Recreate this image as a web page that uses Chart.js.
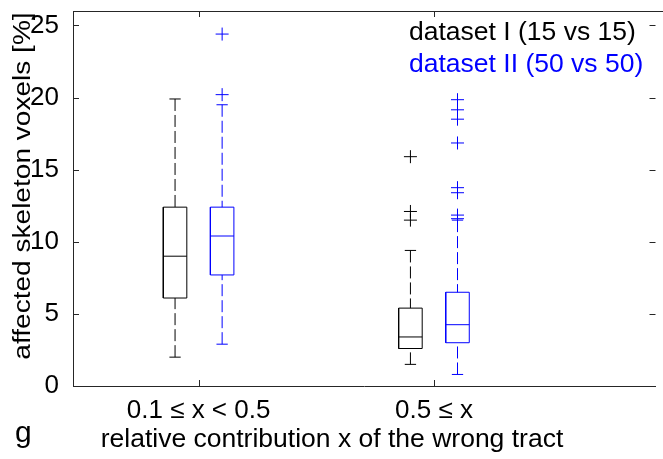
<!DOCTYPE html>
<html>
<head>
<meta charset="utf-8">
<script src="https://cdn.jsdelivr.net/npm/chart.js@4/dist/chart.umd.min.js"></script>
<style>
  body { margin: 0; background: #fff; }
  canvas { display: block; }
</style>
</head>
<body>
<canvas id="c" width="663" height="459"></canvas>
<script>
// groups on the x axis and the two datasets
const groupLabels = ['0.1 ≤ x < 0.5', '0.5 ≤ x'];
const seriesNames = ['dataset I (15 vs 15)', 'dataset II (50 vs 50)'];
const yTicks = [0, 5, 10, 15, 20, 25];

// dataset I box statistics, one value per group
const lowerWhiskerI = [2.0, 1.5];
const q1I = [6.1, 2.6];
const medianI = [9.0, 3.4];
const q3I = [12.4, 5.4];
const upperWhiskerI = [19.9, 9.4];
const outliersI = [[], [15.9, 12.1, 11.5]];

// dataset II box statistics
const lowerWhiskerII = [2.9, 0.8];
const q1II = [7.7, 3.0];
const medianII = [10.4, 4.25];
const q3II = [12.4, 6.5];
const upperWhiskerII = [19.5, 11.5];
const outliersII = [[24.4, 20.2], [19.85, 19.15, 18.5, 16.85, 13.75, 13.4, 11.85, 11.6]];

const colors = ['#000000', '#0000ff'];
const offset = [-0.1, 0.1];
const half = 0.05, cap = 0.024;
const FONT = '"Liberation Sans", Arial, sans-serif';

function box_datasets(s, lo, q1, med, q3, hi, out) {
	let solid = [], dashed = [], pts = [];
	for (let g = 0; g < groupLabels.length; g++) {
		const x = g + 1 + offset[s];
		solid.push({x: x - half, y: q1[g]}, {x: x + half, y: q1[g]}, {x: x + half, y: q3[g]},
			{x: x - half, y: q3[g]}, {x: x - half, y: q1[g]}, {x: x, y: null});
		solid.push({x: x - half, y: med[g]}, {x: x + half, y: med[g]}, {x: x, y: null});
		solid.push({x: x - cap, y: hi[g]}, {x: x + cap, y: hi[g]}, {x: x, y: null});
		solid.push({x: x - cap, y: lo[g]}, {x: x + cap, y: lo[g]}, {x: x, y: null});
		dashed.push({x: x, y: hi[g]}, {x: x, y: q3[g]}, {x: x, y: null});
		dashed.push({x: x, y: lo[g]}, {x: x, y: q1[g]}, {x: x, y: null});
		out[g].forEach(v => pts.push({x: x, y: v}));
	}
	return [{
		label: seriesNames[s] + ' box',
		data: solid,
		showLine: true,
		borderColor: colors[s],
		borderWidth: 1,
		pointRadius: 0,
		spanGaps: false
	}, {
		label: seriesNames[s] + ' whisker',
		data: dashed,
		showLine: true,
		borderColor: colors[s],
		borderWidth: 1,
		borderDash: [12, 4],
		pointRadius: 0,
		spanGaps: false
	}, {
		label: seriesNames[s] + ' outliers',
		data: pts,
		showLine: false,
		pointStyle: 'cross',
		pointRadius: 6.5,
		borderColor: colors[s],
		borderWidth: 1
	}];
}

const frame_plugin = {
	id: 'frame',
	afterDraw(chart) {
		const ctx = chart.ctx, a = chart.chartArea;
		const xs = chart.scales.x, ys = chart.scales.y;
		ctx.save();
		ctx.strokeStyle = '#262626';
		ctx.lineWidth = 1;
		ctx.beginPath();
		ctx.moveTo(a.left, Math.round(a.top) + 0.5);
		ctx.lineTo(chart.width, Math.round(a.top) + 0.5);
		ys.ticks.forEach(t => {
			const py = Math.round(ys.getPixelForValue(t.value)) + 0.5;
			ctx.moveTo(a.left, py); ctx.lineTo(a.left + 6, py);
			ctx.moveTo(a.right, py); ctx.lineTo(a.right - 6, py);
		});
		xs.ticks.forEach(t => {
			const px = Math.round(xs.getPixelForValue(t.value)) + 0.5;
			ctx.moveTo(px, a.bottom); ctx.lineTo(px, a.bottom - 6);
			ctx.moveTo(px, a.top); ctx.lineTo(px, a.top + 6);
		});
		ctx.stroke();

		// legend text
		ctx.font = '26.5px ' + FONT;
		ctx.textAlign = 'left';
		ctx.textBaseline = 'alphabetic';
		ctx.fillStyle = colors[0];
		ctx.fillText(seriesNames[0], 409, 40);
		ctx.fillStyle = colors[1];
		ctx.fillText(seriesNames[1], 409, 72);

		// axis titles and panel letter
		ctx.fillStyle = '#000';
		ctx.textAlign = 'center';
		ctx.fillText('relative contribution x of the wrong tract', 332, 447);
		ctx.textAlign = 'left';
		ctx.font = '30px ' + FONT;
		ctx.fillText('g', 15, 442);
		ctx.translate(30, 186);
		ctx.rotate(-Math.PI / 2);
		ctx.scale(1.22, 1);
		ctx.textAlign = 'center';
		ctx.font = '23px ' + FONT;
		ctx.fillText('affected skeleton voxels [%]', 0, 0);
		ctx.restore();
	}
};

let datasets = [].concat(
	box_datasets(0, lowerWhiskerI, q1I, medianI, q3I, upperWhiskerI, outliersI),
	box_datasets(1, lowerWhiskerII, q1II, medianII, q3II, upperWhiskerII, outliersII)
);

new Chart(document.getElementById('c'), {
	type: 'scatter',
	data: { datasets: datasets },
	options: {
		responsive: false,
		animation: false,
		devicePixelRatio: 1,
		layout: { padding: { top: 11, right: 1, left: 0, bottom: 0 } },
		plugins: {
			legend: { display: false },
			tooltip: { enabled: false }
		},
		events: [],
		scales: {
			x: {
				type: 'linear',
				min: 0.4664,
				max: 2.9412,
				grid: { display: false },
				border: { display: true, color: '#262626', width: 1 },
				afterBuildTicks: function (scale) {
					scale.ticks = groupLabels.map((_, i) => ({ value: i + 1 }));
				},
				afterFit: function (scale) {
					scale.height = 73;
					scale.paddingLeft = 0;
					scale.paddingRight = 0;
				},
				ticks: {
					autoSkip: false,
					maxRotation: 0,
					padding: 1,
					color: '#000',
					font: { family: FONT, size: 26 },
					callback: function (v) { return groupLabels[v - 1]; }
				}
			},
			y: {
				type: 'linear',
				min: 0,
				max: 26,
				grid: { display: false },
				border: { display: true, color: '#262626', width: 1 },
				afterBuildTicks: function (scale) {
					scale.ticks = yTicks.map(v => ({ value: v }));
				},
				afterFit: function (scale) {
					scale.width = 73;
					scale.paddingTop = 0;
					scale.paddingBottom = 0;
				},
				ticks: {
					padding: 6,
					color: '#000',
					font: { family: FONT, size: 26 }
				}
			}
		}
	},
	plugins: [frame_plugin]
});
</script>
</body>
</html>
